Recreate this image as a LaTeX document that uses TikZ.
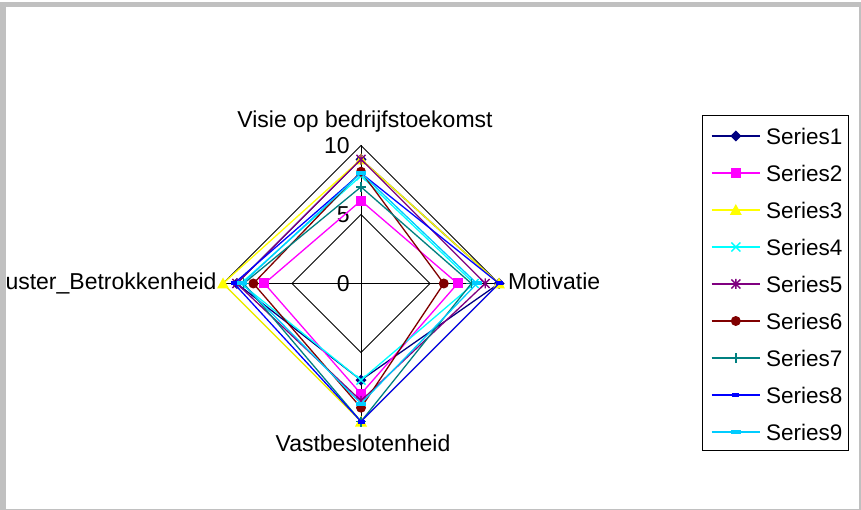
\documentclass[tikz,border=0pt]{standalone}
\usepackage{fontspec}
\setmainfont{Liberation Sans}
\definecolor{framegray}{HTML}{C0C0C0}
\definecolor{s1}{HTML}{000080}
\definecolor{s2}{HTML}{FF00FF}
\definecolor{s3}{HTML}{FFFF00}
\definecolor{s4}{HTML}{00FFFF}
\definecolor{s5}{HTML}{800080}
\definecolor{s6}{HTML}{800000}
\definecolor{s7}{HTML}{008080}
\definecolor{s8}{HTML}{0000FF}
\definecolor{s9}{HTML}{00CCFF}
\tikzset{
  serline/.style={line width=1.3pt, line join=miter},
  gridline/.style={line width=0.8pt, black},
  lbl/.style={inner sep=0pt, font=\fontsize{23}{27}\selectfont},
  leglbl/.style={inner sep=0pt, anchor=west, font=\fontsize{22.5}{27}\selectfont},
  mdiamond/.pic={\fill[#1] (0,5.5pt)--(5.5pt,0)--(0,-5.5pt)--(-5.5pt,0)--cycle;},
  msquare/.pic={\fill[#1] (-5pt,-5pt) rectangle (5pt,5pt);},
  mtri/.pic={\fill[#1] (0,6pt)--(6pt,-5pt)--(-6pt,-5pt)--cycle;},
  mx/.pic={\draw[#1, line width=1.4pt] (-4.5pt,-4.5pt)--(4.5pt,4.5pt) (-4.5pt,4.5pt)--(4.5pt,-4.5pt);},
  mast/.pic={\draw[#1, line width=1.4pt] (-4.5pt,-4.5pt)--(4.5pt,4.5pt) (-4.5pt,4.5pt)--(4.5pt,-4.5pt) (0,-5pt)--(0,5pt);},
  mcircle/.pic={\fill[#1] (0,0) circle (5pt);},
  mplus/.pic={\draw[#1, line width=1.4pt] (-5pt,0)--(5pt,0) (0,-5pt)--(0,5pt);},
  mdasha/.pic={\fill[#1] (-3.5pt,-2pt) rectangle (3.5pt,2pt);},
  mdashb/.pic={\fill[#1] (-5pt,-2pt) rectangle (5pt,2pt);},
}
\newcommand\radarser[6]{%
  \draw[serline,#1] (0,#2)--(#3,0)--(0,-#4)--(-#5,0)--cycle;
  \pic at (0,#2) {#6=#1};
  \pic at (#3,0) {#6=#1};
  \pic at (0,-#4) {#6=#1};
  \pic at (-#5,0) {#6=#1};
}
\newcommand\legentry[4]{% y, color, pic, text
  \draw[line width=1.2pt,#2] (711.7,#1)--(760,#1);
  \pic at (735.8,#1) {#3=#2};
  \node[leglbl] (leg#4) at (766,#1) {#4};
}
\begin{document}
\begin{tikzpicture}[x=1pt,y=-1pt]
\useasboundingbox (0,0) rectangle (861,510);
\fill[white] (0,0) rectangle (861,510);
\fill[framegray] (0,2) rectangle (861,510);
\fill[white] (6,7) rectangle (858.5,508.7);
% axis labels
\begin{scope}
  \clip (6,7) rectangle (858.5,508.7);
  \node[lbl, anchor=base east] (lclus) at (216.7,290) {Cluster\_Betrokkenheid};
\end{scope}
\node[lbl, anchor=base] (lvisie) at (365,128) {Visie op bedrijfstoekomst};
\node[lbl, anchor=base] (lvast) at (363,451.7) {Vastbeslotenheid};
\node[lbl, anchor=base west] (lmot) at (508,290) {Motivatie};
% radar chart
\begin{scope}[shift={(361,283.5)}, x=13.8pt, y=13.8pt]
  \draw[gridline] (0,10)--(10,0)--(0,-10)--(-10,0)--cycle;
  \draw[gridline] (0,5)--(5,0)--(0,-5)--(-5,0)--cycle;
  \draw[gridline] (0,10)--(0,-10) (-10,0)--(10,0);
  \node[lbl, anchor=east] (t10) at (-0.8,10) {10};
  \node[lbl, anchor=east] (t5) at (-0.8,5) {5};
  \node[lbl, anchor=east] (t0) at (-0.8,0) {0};
  \radarser{s1}{9}{10}{7}{9}{mdiamond}
  \radarser{s2}{6}{7}{8}{7}{msquare}
  \radarser{s3}{9}{10}{10}{10}{mtri}
  \radarser{s4}{7.8}{8.2}{7}{8.7}{mx}
  \radarser{s5}{9}{9}{8.5}{9}{mast}
  \radarser{s6}{8.1}{6}{9}{7.8}{mcircle}
  \radarser{s7}{7}{8}{10}{8.5}{mplus}
  \radarser{s8}{8}{10}{10}{9.2}{mdasha}
  \radarser{s9}{8}{8.4}{8.7}{8.6}{mdashb}
\end{scope}
% legend
\draw[line width=0.8pt] (702.7,115) rectangle (848.3,450);
\legentry{136}{s1}{mdiamond}{Series1}
\legentry{173}{s2}{msquare}{Series2}
\legentry{210}{s3}{mtri}{Series3}
\legentry{247}{s4}{mx}{Series4}
\legentry{284}{s5}{mast}{Series5}
\legentry{321}{s6}{mcircle}{Series6}
\legentry{358}{s7}{mplus}{Series7}
\legentry{395}{s8}{mdasha}{Series8}
\legentry{432}{s9}{mdashb}{Series9}
\end{tikzpicture}
\end{document}
